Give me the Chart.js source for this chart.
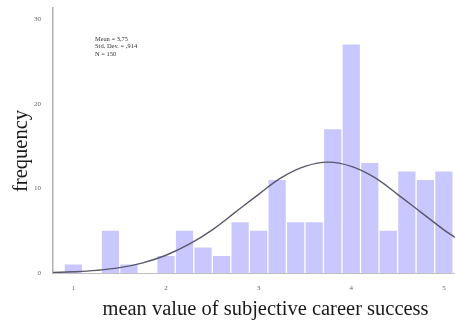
<!DOCTYPE html>
<html>
<head>
<meta charset="utf-8">
<script src="https://cdn.jsdelivr.net/npm/chart.js@4/dist/chart.umd.min.js"></script>
<style>
  html, body { margin: 0; padding: 0; background: #fff; }
  canvas { display: block; }
</style>
</head>
<body>
<canvas id="chart" width="455" height="321"></canvas>
<script>
// Histogram bins (bin centres, width 0.2) and their counts
const binCenters = [1.0, 1.2, 1.4, 1.6, 1.8, 2.0, 2.2, 2.4, 2.6, 2.8, 3.0,
                    3.2, 3.4, 3.6, 3.8, 4.0, 4.2, 4.4, 4.6, 4.8, 5.0];
const frequencies = [1, 0, 5, 1, 0, 2, 5, 3, 2, 6, 5,
                     11, 6, 6, 17, 27, 13, 5, 12, 11, 12];

// Normal curve overlay, sampled along the x axis
const curveX = [0.78, 1.0, 1.25, 1.5, 1.75, 2.0, 2.25, 2.5, 2.75, 3.0,
                3.25, 3.5, 3.75, 4.0, 4.25, 4.5, 4.75, 5.0, 5.12];
const curveY = [0.07, 0.14, 0.31, 0.63, 1.2, 2.1, 3.4, 5.1, 7.2, 9.3,
                11.3, 12.6, 13.1, 12.6, 11.3, 9.3, 7.2, 5.1, 4.2];

// Axis ticks and texts
const xTicks = [1, 2, 3, 4, 5];
const yTicks = [0, 10, 20, 30];
const statsLines = ['Mean = 3,75', 'Std. Dev. = ,914', 'N = 150'];
const xTitle = 'mean value of subjective career success';
const yTitle = 'frequency';

const SERIF = '"Liberation Serif", "Times New Roman", Times, serif';
Chart.defaults.font.family = SERIF;

// Axis titles and the summary statistics block
const textPlugin = {
  id: 'histText',
  afterDraw(chart) {
    const ctx = chart.ctx;
    ctx.save();
    ctx.fillStyle = '#1a1a1a';
    ctx.font = '20.5px ' + SERIF;
    ctx.textAlign = 'center';
    ctx.textBaseline = 'alphabetic';
    ctx.fillText(xTitle, 265.5, 315);

    ctx.save();
    ctx.translate(27, 151);
    ctx.rotate(-Math.PI / 2);
    ctx.fillText(yTitle, 0, 0);
    ctx.restore();

    ctx.fillStyle = '#333';
    ctx.font = '6.5px ' + SERIF;
    ctx.textAlign = 'left';
    ctx.textBaseline = 'middle';
    statsLines.forEach((line, i) => ctx.fillText(line, 95, 39 + i * 7.5));
    ctx.restore();
  }
};

new Chart(document.getElementById('chart'), {
  type: 'bar',
  data: {
    datasets: [
      {
        type: 'line',
        data: curveX.map((x, i) => ({ x: x, y: curveY[i] })),
        borderColor: '#58586a',
        borderWidth: 1.4,
        pointRadius: 0,
        tension: 0.4,
        fill: false,
        order: 0
      },
      {
        type: 'bar',
        data: binCenters.map((x, i) => ({ x: x, y: frequencies[i] })),
        backgroundColor: 'rgb(200, 200, 254)',
        borderWidth: 0,
        barPercentage: 0.93,
        categoryPercentage: 1,
        order: 1
      }
    ]
  },
  options: {
    responsive: false,
    animation: false,
    layout: { padding: { top: 8, left: 0, right: 0, bottom: 0 } },
    plugins: { legend: { display: false }, tooltip: { enabled: false } },
    scales: {
      x: {
        type: 'linear',
        offset: false,
        min: 0.78,
        max: 5.12,
        grid: { display: false },
        border: { display: true, color: '#c0c0c0', width: 1 },
        afterBuildTicks: s => { s.ticks = xTicks.map(v => ({ value: v })); },
        afterFit: s => { s.height = 48; },
        ticks: { font: { size: 7 }, color: '#666', padding: 3, maxRotation: 0 }
      },
      y: {
        min: 0,
        max: 31.3,
        grid: { display: false },
        border: { display: true, color: '#b0b0b0', width: 1.5 },
        afterBuildTicks: s => { s.ticks = yTicks.map(v => ({ value: v })); },
        afterFit: s => { s.width = 53; },
        ticks: { font: { size: 7 }, color: '#666', padding: 4 }
      }
    }
  },
  plugins: [textPlugin]
});
</script>
</body>
</html>
